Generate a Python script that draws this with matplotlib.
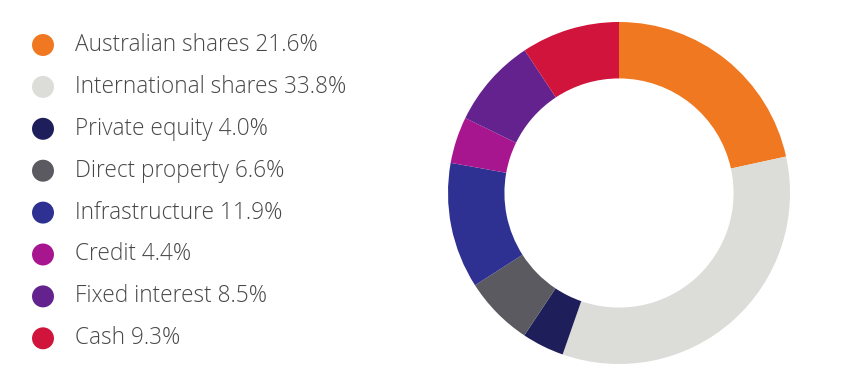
import matplotlib
matplotlib.use("Agg")
import matplotlib.pyplot as plt

# asset allocation
categories = [
    "Australian shares",
    "International shares",
    "Private equity",
    "Direct property",
    "Infrastructure",
    "Credit",
    "Fixed interest",
    "Cash",
]
weights = [21.6, 33.8, 4.0, 6.6, 11.9, 4.4, 8.5, 9.3]
colors = ["#F07820", "#DCDCD8", "#1E1E5A", "#5A5A60",
          "#2E3192", "#A8168F", "#64228F", "#D0143C"]

W, H = 850, 392
fig = plt.figure(figsize=(W / 100, H / 100), dpi=100)

# donut
ax = fig.add_axes([448 / W, (H - 364) / H, 342 / W, 342 / H])
ax.pie(weights, colors=colors, startangle=90, counterclock=False,
       wedgeprops=dict(width=0.33, linewidth=0))
ax.set_xlim(-1, 1)
ax.set_ylim(-1, 1)
ax.set_aspect("equal")
ax.axis("off")

# legend drawn in pixel coordinates
lax = fig.add_axes([0, 0, 1, 1])
lax.set_xlim(0, W)
lax.set_ylim(H, 0)
lax.axis("off")
row_y = [45 + i * 41.9 for i in range(len(categories))]
lax.scatter([43] * len(categories), row_y, s=250, c=colors, linewidths=0)
for y, name, w in zip(row_y, categories, weights):
    lax.text(75, y, f"{name} {w:.1f}%", va="center", ha="left",
             fontsize=16.3, color="#484848", family="Open Sans", weight="light")

fig.savefig("out.png", dpi=100, facecolor="white")
